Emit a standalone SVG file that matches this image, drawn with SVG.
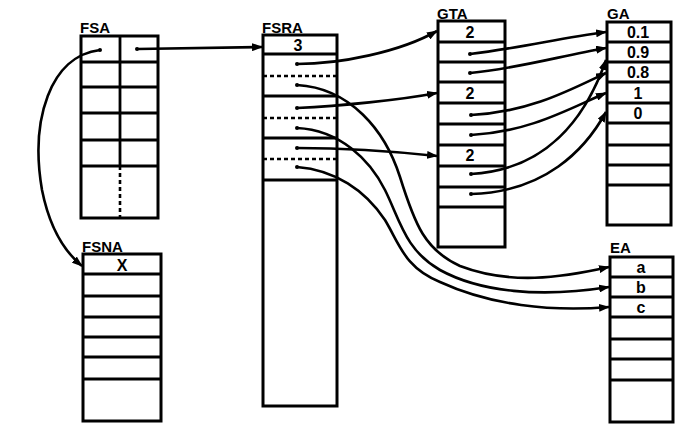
<svg xmlns="http://www.w3.org/2000/svg" width="676" height="424" viewBox="0 0 676 424">
<defs>
<marker id="ah" markerWidth="11" markerHeight="8" refX="10" refY="4" orient="auto" markerUnits="userSpaceOnUse">
<path d="M0,0 L11,4 L0,8 Z" fill="#000"/>
</marker>
<style>
.box{fill:#fff;stroke:#000;stroke-width:3}
.ln{stroke:#000;stroke-width:2.8;fill:none}
.dl{stroke:#000;stroke-width:2.6;fill:none;stroke-dasharray:4,3}
.lbl{font-family:"Liberation Sans",Arial,sans-serif;font-weight:bold;font-size:15px;fill:#000}
.val{font-family:"Liberation Sans",Arial,sans-serif;font-weight:bold;font-size:16px;fill:#000;text-anchor:middle}
.arr{stroke:#000;stroke-width:2.6;fill:none;marker-end:url(#ah)}
.dot{fill:#000}
</style>
</defs>
<rect width="676" height="424" fill="#fff"/>

<g id="FSA">
<text class="lbl" x="80" y="33">FSA</text>
<rect class="box" x="81" y="36" width="77" height="182"/>
<path class="ln" d="M81,62H158M81,87H158M81,113H158M81,140H158M81,166H158M120,36V166"/>
<path class="dl" d="M120,166V218"/>
</g>

<g id="FSRA">
<text class="lbl" x="262" y="33">FSRA</text>
<rect class="box" x="263" y="35" width="74" height="371"/>
<path class="ln" d="M263,54H337M263,96H337M263,138H337M263,180H337"/>
<path class="dl" d="M263,76H337M263,118H337M263,159H337"/>
<text class="val" x="298" y="51">3</text>
</g>

<g id="GTA">
<text class="lbl" x="437" y="19">GTA</text>
<rect class="box" x="438" y="21" width="67" height="226"/>
<path class="ln" d="M438,42H505M438,62H505M438,82H505M438,103H505M438,124H505M438,145H505M438,166H505M438,187H505M438,207H505"/>
<text class="val" x="470" y="38">2</text>
<text class="val" x="470" y="99">2</text>
<text class="val" x="470" y="161">2</text>
</g>

<g id="GA">
<text class="lbl" x="607" y="19">GA</text>
<rect class="box" x="607" y="22" width="64" height="203"/>
<path class="ln" d="M607,42H671M607,62H671M607,82H671M607,103H671M607,123H671M607,145H671M607,165H671M607,185H671"/>
<text class="val" x="638" y="38">0.1</text>
<text class="val" x="638" y="58">0.9</text>
<text class="val" x="638" y="78">0.8</text>
<text class="val" x="638" y="99">1</text>
<text class="val" x="638" y="119">0</text>
</g>

<g id="FSNA">
<text class="lbl" x="82" y="252">FSNA</text>
<rect class="box" x="83" y="254" width="78" height="167"/>
<path class="ln" d="M83,274H161M83,296H161M83,317H161M83,337H161M83,357H161M83,379H161"/>
<text class="val" x="122" y="271">X</text>
</g>

<g id="EA">
<text class="lbl" x="610" y="253">EA</text>
<rect class="box" x="610" y="257" width="63" height="165"/>
<path class="ln" d="M610,277H673M610,297H673M610,317H673M610,339H673M610,359H673M610,380H673"/>
<text class="val" x="641" y="273">a</text>
<text class="val" x="641" y="293">b</text>
<text class="val" x="641" y="313">c</text>
</g>

<g id="connectors">
<circle class="dot" cx="100" cy="50" r="2"/>
<circle class="dot" cx="137" cy="49" r="2"/>
<circle class="dot" cx="297" cy="64" r="2"/>
<circle class="dot" cx="297" cy="85" r="2"/>
<circle class="dot" cx="297" cy="108" r="2"/>
<circle class="dot" cx="297" cy="128" r="2"/>
<circle class="dot" cx="297" cy="148" r="2"/>
<circle class="dot" cx="297" cy="167" r="2"/>
<circle class="dot" cx="470" cy="54" r="2"/>
<circle class="dot" cx="470" cy="73" r="2"/>
<circle class="dot" cx="471" cy="115" r="2"/>
<circle class="dot" cx="471" cy="135" r="2"/>
<circle class="dot" cx="471" cy="174" r="2"/>
<circle class="dot" cx="471" cy="194" r="2"/>

<path class="arr" d="M100,50 C50,56 30,120 42,190 C50,230 65,252 82,266"/>
<path class="arr" d="M137,49 L262,47"/>

<path class="arr" d="M297,64 C340,64 400,52 437,31"/>
<path class="arr" d="M297,108 C340,106 400,100 437,93"/>
<path class="arr" d="M297,148 C350,148 400,152 437,156"/>

<path class="arr" d="M297,85 C350,88 385,130 400,177 C415,225 425,250 460,266 C510,285 560,278 609,267"/>
<path class="arr" d="M297,128 C340,130 370,160 385,190 C400,220 405,250 440,270 C480,292 540,298 609,287"/>
<path class="arr" d="M297,167 C335,170 365,190 385,220 C400,245 405,268 440,282 C490,305 550,312 609,307"/>

<path class="arr" d="M470,54 C520,48 560,38 606,32"/>
<path class="arr" d="M470,73 C520,68 560,56 606,48"/>
<path class="arr" d="M471,115 C530,112 570,90 606,73"/>
<path class="arr" d="M471,135 C530,132 570,108 606,93"/>
<path class="arr" d="M471,174 C545,170 585,120 606,60"/>
<path class="arr" d="M471,194 C545,192 585,150 606,112"/>
</g>
</svg>
